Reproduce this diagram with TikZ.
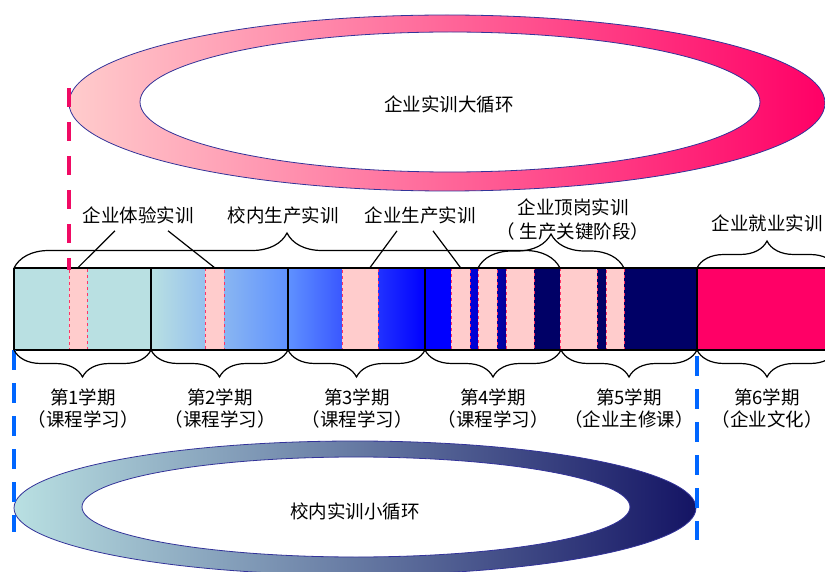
\documentclass[tikz,border=0pt]{standalone}
\usepackage{fontspec}
\setmainfont{Noto Sans CJK SC}
\usepackage{tikz}
\usetikzlibrary{decorations.pathreplacing}

\definecolor{tealL}{RGB}{185,224,226}
\definecolor{blueM}{RGB}{95,145,255}
\definecolor{blueF}{RGB}{0,0,255}
\definecolor{navyD}{RGB}{0,0,102}
\definecolor{hotpink}{RGB}{255,0,102}
\definecolor{pinkL}{RGB}{255,204,204}
\definecolor{pinkM}{RGB}{255,170,185}
\definecolor{pinkB}{RGB}{255,51,102}
\definecolor{ringB}{RGB}{51,51,153}
\definecolor{tealM}{RGB}{145,185,198}
\definecolor{navyR}{RGB}{20,20,100}
\definecolor{redD}{RGB}{240,10,100}
\definecolor{blueD}{RGB}{0,102,255}

\tikzset{
  lab/.style={font=\fontsize{18.5}{20}\selectfont, inner sep=0pt},
  term/.style={font=\fontsize{18.5}{22}\selectfont, inner sep=0pt, align=center},
  trainbox/.style={fill=pinkL, draw=pinkB, dashed, line width=0.8pt,
    minimum height=82pt, inner sep=0pt},
  bracetop/.style={decorate, decoration={brace, amplitude=#1}, line width=1.2pt},
  ring/.style={draw=ringB, line width=0.8pt, even odd rule},
}

\begin{document}
\begin{tikzpicture}[x=1pt,y=-1pt]
\useasboundingbox (0,0) rectangle (825,572);

% big loop
\shadedraw[ring, left color=pinkL, middle color=pinkM, right color=hotpink]
  (447,103) ellipse [x radius=378, y radius=88]
  (450,102) ellipse [x radius=310, y radius=70];
\node[lab] (bigloop) at (449,104) {企业实训大循环};

% small loop
\shadedraw[ring, left color=tealL, middle color=tealM, right color=navyR]
  (355,508) ellipse [x radius=341, y radius=67]
  (356,507) ellipse [x radius=274, y radius=50];
\node[lab] (smallloop) at (355,511) {校内实训小循环};

% band
\fill[tealL] (14,268) rectangle (151,350);
\shade[left color=tealL, right color=blueM] (151,268) rectangle (288,350);
\shade[left color=blueM, right color=blueF] (288,268) rectangle (425,350);
\fill[blueF] (425,268) rectangle (451,350);
\shade[left color=blueF, right color=navyD] (451,268) rectangle (534,350);
\fill[navyD] (534,268) rectangle (697,350);
\fill[hotpink] (697,268) rectangle (830,350);

\node[trainbox, minimum width=18pt] (b1) at (78,309) {};
\node[trainbox, minimum width=19pt] (b2) at (214.5,309) {};
\node[trainbox, minimum width=36pt] (b3) at (360,309) {};
\node[trainbox, minimum width=19pt] (b4) at (460.5,309) {};
\node[trainbox, minimum width=19pt] (b5) at (487.5,309) {};
\node[trainbox, minimum width=28pt] (b6) at (520,309) {};
\node[trainbox, minimum width=37pt] (b7) at (578.5,309) {};
\node[trainbox, minimum width=18pt] (b8) at (615,309) {};

\draw[line width=2.5pt] (14,268) -- (830,268);
\draw[line width=2.5pt] (14,350) -- (830,350);
\foreach \x in {14,151,288,425,697}
  \draw[line width=2.2pt] (\x,268) -- (\x,350);

% dashed guides
\draw[redD, line width=4pt, dash pattern=on 19pt off 15pt] (69,88) -- (69,270);
\draw[blueD, line width=4pt, dash pattern=on 20pt off 13pt] (14,350) -- (14,532);
\draw[blueD, line width=4pt, dash pattern=on 20pt off 13pt] (697,356) -- (697,540);

% braces above
\draw[bracetop=35] (14,268) -- (560,268);
\draw[bracetop=34] (478,268) -- (624,268);
\draw[bracetop=27] (697,268) -- (837,268);

\node[lab] (tiyan) at (138,215) {企业体验实训};
\node[lab] (xiaonei) at (283,215) {校内生产实训};
\node[lab] (shengchan) at (420,215) {企业生产实训};
\node[lab] (dinggang) at (573,207) {企业顶岗实训};
\node[lab] (guanjian) at (573,231) {（ 生产关键阶段）};
\node[lab] (jiuye) at (767,223) {企业就业实训};

\draw[line width=1.2pt] ([xshift=-23pt,yshift=-7pt]tiyan.south) -- (b1.north);
\draw[line width=1.2pt] ([xshift=30pt,yshift=-7pt]tiyan.south) -- (b2.north);
\draw[line width=1.2pt] ([xshift=-23pt,yshift=-7pt]shengchan.south) -- ([xshift=10pt]b3.north);
\draw[line width=1.2pt] ([xshift=13pt,yshift=-7pt]shengchan.south) -- (b4.north);

% braces below
\foreach \a/\b in {14/151,151/288,288/425,425/561,561/697,697/837}
  \draw[bracetop=27] (\b,350) -- (\a,350);

\node[term] (t1) at (83,409) {第1学期\\（课程学习）};
\node[term] (t2) at (220,409) {第2学期\\（课程学习）};
\node[term] (t3) at (357,409) {第3学期\\（课程学习）};
\node[term] (t4) at (493,409) {第4学期\\（课程学习）};
\node[term] (t5) at (629,409) {第5学期\\（企业主修课）};
\node[term] (t6) at (767,409) {第6学期\\（企业文化）};
\end{tikzpicture}
\end{document}
